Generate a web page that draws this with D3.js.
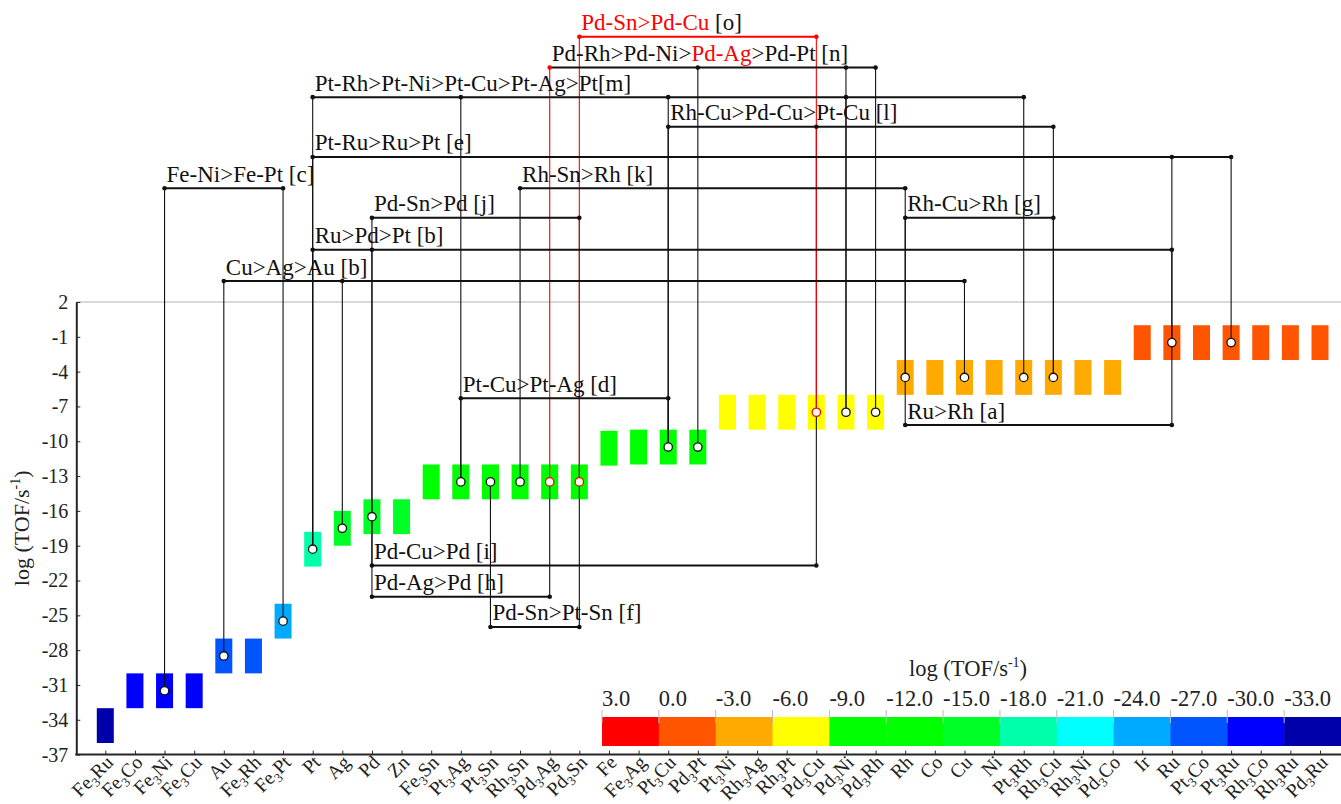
<!DOCTYPE html>
<html>
<head>
<meta charset="utf-8">
<script src="https://cdn.jsdelivr.net/npm/d3@7"></script>
<style>
  html, body { margin: 0; padding: 0; background: #fff; }
  svg { display: block; }
  text { font-family: "Liberation Serif", "Times New Roman", serif; }
</style>
</head>
<body>
<svg id="chart" width="1341" height="804"></svg>
<script>
// Catalysts along the x axis and their log(TOF / s^-1)
const categories = [
  "Fe3Ru", "Fe3Co", "Fe3Ni", "Fe3Cu", "Au", "Fe3Rh", "Fe3Pt", "Pt", "Ag", "Pd", "Zn",
  "Fe3Sn", "Pt3Ag", "Pt3Sn", "Rh3Sn", "Pd3Ag", "Pd3Sn", "Fe", "Fe3Ag", "Pt3Cu", "Pd3Pt",
  "Pt3Ni", "Rh3Ag", "Rh3Pt", "Pd3Cu", "Pd3Ni", "Pd3Rh", "Rh", "Co", "Cu", "Ni", "Pt3Rh",
  "Rh3Cu", "Rh3Ni", "Pd3Co", "Ir", "Ru", "Pt3Co", "Pt3Ru", "Rh3Co", "Rh3Ru", "Pd3Ru"
];
const logTOF = [
  -34.5, -31.5, -31.5, -31.5, -28.5, -28.5, -25.5, -19.3, -17.5, -16.5, -16.5,
  -13.5, -13.5, -13.5, -13.5, -13.5, -13.5, -10.6, -10.5, -10.5, -10.5,
  -7.5, -7.5, -7.5, -7.5, -7.5, -7.5, -4.5, -4.5, -4.5, -4.5, -4.5,
  -4.5, -4.5, -4.5, -1.5, -1.5, -1.5, -1.5, -1.5, -1.5, -1.5
];

// Axis ticks and colour bins
const yTicks = [2, -1, -4, -7, -10, -13, -16, -19, -22, -25, -28, -31, -34, -37];
const legendTicks = [3, 0, -3, -6, -9, -12, -15, -18, -21, -24, -27, -30, -33];
const binEdges = [-33, -30, -27, -24, -21, -18, -15, -12, -9, -6, -3, 0];
const binColors = [
  "#0000aa", "#0000ff", "#0055ff", "#00aaff", "#00ffff", "#00ffaa", "#00ff26",
  "#00ff00", "#00ff00", "#ffff00", "#ffaa00", "#ff5500", "#ff0000"
];

// Activity-order comparisons: label pieces (text, highlighted), members, highlighted members
const comparisons = [
  { tag: "o", parts: [["Pd-Sn>Pd-Cu", true], [" [o]", false]], members: ["Pd3Sn", "Pd3Cu"], red: ["Pd3Sn", "Pd3Cu"], redLine: true },
  { tag: "n", parts: [["Pd-Rh>Pd-Ni>", false], ["Pd-Ag", true], [">Pd-Pt [n]", false]], members: ["Pd3Ag", "Pd3Pt", "Pd3Ni", "Pd3Rh"], red: ["Pd3Ag"] },
  { tag: "m", parts: [["Pt-Rh>Pt-Ni>Pt-Cu>Pt-Ag>Pt[m]", false]], members: ["Pt", "Pt3Ag", "Pt3Cu", "Pd3Ni", "Pt3Rh"], red: [] },
  { tag: "l", parts: [["Rh-Cu>Pd-Cu>Pt-Cu [l]", false]], members: ["Pt3Cu", "Pd3Cu", "Rh3Cu"], red: [] },
  { tag: "e", parts: [["Pt-Ru>Ru>Pt [e]", false]], members: ["Pt", "Ru", "Pt3Ru"], red: [] },
  { tag: "c", parts: [["Fe-Ni>Fe-Pt [c]", false]], members: ["Fe3Ni", "Fe3Pt"], red: [] },
  { tag: "k", parts: [["Rh-Sn>Rh [k]", false]], members: ["Rh3Sn", "Rh"], red: [] },
  { tag: "j", parts: [["Pd-Sn>Pd [j]", false]], members: ["Pd", "Pd3Sn"], red: [] },
  { tag: "g", parts: [["Rh-Cu>Rh [g]", false]], members: ["Rh", "Rh3Cu"], red: [] },
  { tag: "b1", parts: [["Ru>Pd>Pt [b]", false]], members: ["Pt", "Pd", "Ru"], red: [] },
  { tag: "b2", parts: [["Cu>Ag>Au [b]", false]], members: ["Au", "Ag", "Cu"], red: [] },
  { tag: "d", parts: [["Pt-Cu>Pt-Ag [d]", false]], members: ["Pt3Ag", "Pt3Cu"], red: [] },
  { tag: "a", parts: [["Ru>Rh [a]", false]], members: ["Rh", "Ru"], red: [] },
  { tag: "i", parts: [["Pd-Cu>Pd [i]", false]], members: ["Pd", "Pd3Cu"], red: [] },
  { tag: "h", parts: [["Pd-Ag>Pd [h]", false]], members: ["Pd", "Pd3Ag"], red: [] },
  { tag: "f", parts: [["Pd-Sn>Pt-Sn [f]", false]], members: ["Pt3Sn", "Pd3Sn"], red: [] }
];

// Row of each comparison bracket, in log(TOF) units of the y scale
const rowLevel = {
  o: 24.85, n: 22.2, m: 19.65, l: 17.1, e: 14.5, c: 11.8, k: 11.8, j: 9.25, g: 9.25,
  b1: 6.5, b2: 3.8, d: -6.3, a: -8.6, i: -20.7, h: -23.4, f: -26.0
};

const W = 1341, H = 804;
const RED = "#ff0000", INK = "#111111", AXIS = "#262626";
const barW = 17, halfSpan = 1.5;

const svg = d3.select("#chart");
const x = d3.scalePoint().domain(categories).range([105.3, 1320]);
const y = d3.scaleLinear().domain([-37, 2]).range([754.6, 302]);
const color = d3.scaleThreshold().domain(binEdges).range(binColors);
const valueOf = new Map(categories.map((c, i) => [c, logTOF[i]]));
const x0 = 76.3;

// light reference line at the top of the axis
svg.append("line")
  .attr("x1", x0).attr("x2", W).attr("y1", y(2)).attr("y2", y(2))
  .attr("stroke", "#d9d9d9").attr("stroke-width", 2);

// bars: each spans value ± 1.5, coloured by its bin
svg.append("g").selectAll("rect").data(categories).join("rect")
  .attr("x", c => x(c) - barW / 2)
  .attr("width", barW)
  .attr("y", c => y(valueOf.get(c) + halfSpan))
  .attr("height", c => y(valueOf.get(c) - halfSpan) - y(valueOf.get(c) + halfSpan))
  .attr("fill", c => color(valueOf.get(c)));

// vertical connectors from each bracket row to the member markers
const segs = [];
comparisons.forEach(cmp => {
  const ly = y(rowLevel[cmp.tag]);
  cmp.members.forEach(m => {
    segs.push({ x: x(m), y1: ly, y2: y(valueOf.get(m)), red: cmp.red.includes(m) });
  });
});
const gV = svg.append("g");
gV.selectAll("line").data(segs.filter(s => !s.red).concat(segs.filter(s => s.red))).join("line")
  .attr("x1", d => d.x).attr("x2", d => d.x)
  .attr("y1", d => d.y1).attr("y2", d => d.y2)
  .attr("stroke", d => d.red ? RED : INK)
  .attr("stroke-width", 1.1);

// bracket rows, end dots and labels
const gB = svg.append("g");
comparisons.forEach(cmp => {
  const ly = y(rowLevel[cmp.tag]);
  const xs = cmp.members.map(m => x(m));
  const xa = d3.min(xs), xb = d3.max(xs);
  gB.append("line")
    .attr("x1", xa).attr("x2", xb).attr("y1", ly).attr("y2", ly)
    .attr("stroke", cmp.redLine ? RED : INK)
    .attr("stroke-width", 2);
  cmp.members.forEach(m => {
    gB.append("circle").attr("cx", x(m)).attr("cy", ly).attr("r", 2.3)
      .attr("fill", cmp.red.includes(m) ? RED : INK);
  });
  const t = gB.append("text").attr("x", xa + 2).attr("y", ly - 6.5)
    .attr("font-size", 23).attr("fill", INK);
  cmp.parts.forEach(([s, hi]) => t.append("tspan").attr("fill", hi ? RED : INK).text(s));
});

// value markers on the compared bars
const marked = Array.from(new Set(comparisons.flatMap(c => c.members)));
const redMarked = new Set(comparisons.flatMap(c => c.red));
svg.append("g").selectAll("circle").data(marked).join("circle")
  .attr("cx", c => x(c)).attr("cy", c => y(valueOf.get(c)))
  .attr("r", 4.2)
  .attr("fill", "#fff")
  .attr("stroke", c => redMarked.has(c) ? RED : INK)
  .attr("stroke-width", 1.3);

// y axis
const gy = svg.append("g").attr("transform", `translate(${x0},0)`)
  .call(d3.axisLeft(y).tickValues(yTicks).tickSize(-4).tickSizeOuter(0).tickPadding(8)
    .tickFormat(d => String(d)));
gy.attr("font-family", "Liberation Serif").attr("font-size", 20);
gy.select(".domain").attr("stroke", AXIS).attr("stroke-width", 2);
gy.selectAll(".tick line").attr("stroke", AXIS);
gy.selectAll(".tick text").attr("fill", "#222");

// x axis
const gx = svg.append("g").attr("transform", `translate(0,${y(-37)})`)
  .call(d3.axisBottom(x).tickSize(-4).tickSizeOuter(0).tickFormat(""));
gx.select(".domain").remove();
gx.selectAll(".tick line").attr("stroke", AXIS);
svg.append("line").attr("x1", x0 - 1).attr("x2", W).attr("y1", y(-37)).attr("y2", y(-37))
  .attr("stroke", AXIS).attr("stroke-width", 2);

// rotated category labels with subscript stoichiometry
const gxl = svg.append("g");
categories.forEach(c => {
  const t = gxl.append("text")
    .attr("transform", `translate(${x(c) + 9},${y(-37) + 9}) rotate(-45)`)
    .attr("text-anchor", "end").attr("font-size", 19.5).attr("fill", "#222");
  let shifted = false;
  c.split(/(\d)/).filter(s => s).forEach(s => {
    if (/^\d$/.test(s)) {
      t.append("tspan").attr("font-size", 13).attr("dy", 4.5).text(s);
      shifted = true;
    } else {
      const sp = t.append("tspan").text(s);
      if (shifted) { sp.attr("dy", -4.5); shifted = false; }
    }
  });
});

// y axis title
const yt = svg.append("text")
  .attr("transform", `translate(29,${(y(2) + y(-37)) / 2}) rotate(-90)`)
  .attr("text-anchor", "middle").attr("font-size", 22).attr("fill", "#222");
yt.append("tspan").text("log (TOF/s");
yt.append("tspan").attr("font-size", 14).attr("dy", -9).text("-1");
yt.append("tspan").attr("dy", 9).text(")");

// colour bar
const lx = d3.scaleLinear().domain([3, -36]).range([602, 1341]);
const gL = svg.append("g");
gL.selectAll("rect").data(legendTicks).join("rect")
  .attr("x", t => lx(t)).attr("width", t => lx(t - 3) - lx(t) + 0.5)
  .attr("y", 717).attr("height", 29)
  .attr("fill", t => color(t - halfSpan));
gL.selectAll("line").data(legendTicks).join("line")
  .attr("x1", t => lx(t)).attr("x2", t => lx(t))
  .attr("y1", 710).attr("y2", 723)
  .attr("stroke", "#bbbbbb").attr("stroke-width", 1);
gL.selectAll("text.tk").data(legendTicks).join("text").attr("class", "tk")
  .attr("x", t => lx(t)).attr("y", 706)
  .attr("font-size", 22.5).attr("fill", "#222")
  .text(t => t.toFixed(1));
const lt = gL.append("text").attr("x", 968).attr("y", 676)
  .attr("text-anchor", "middle").attr("font-size", 22.5).attr("fill", "#222");
lt.append("tspan").text("log (TOF/s");
lt.append("tspan").attr("font-size", 14).attr("dy", -9).text("-1");
lt.append("tspan").attr("dy", 9).text(")");
</script>
</body>
</html>
